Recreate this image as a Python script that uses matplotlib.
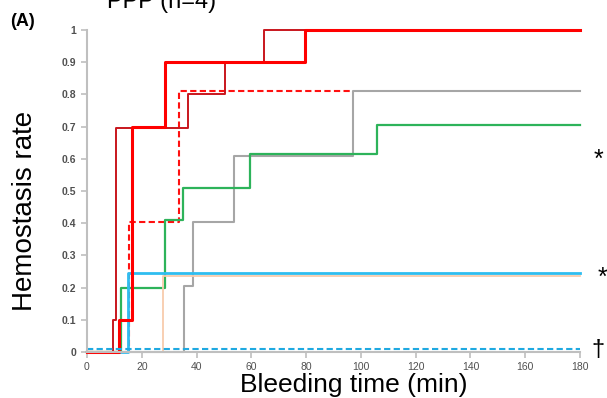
import matplotlib
matplotlib.use("Agg")
import matplotlib.pyplot as plt

plt.rcParams['font.family'] = ['Liberation Sans', 'DejaVu Sans']

# step curves: time (min) where the rate changes, and the rate from then on
t_darkred = [0, 9.6, 10.6, 37.0, 50.4, 64.5, 180]
r_darkred = [0, 0.10, 0.695, 0.80, 0.90, 1.0, 1.0]

t_red = [0, 11.8, 16.3, 28.5, 79.6, 180]
r_red = [0, 0.10, 0.70, 0.90, 1.0, 1.0]

t_red_dash = [0, 15.4, 33.6, 97.0]
r_red_dash = [0, 0.405, 0.81, 0.81]

t_gray = [0, 35.5, 38.8, 53.7, 97.0, 180]
r_gray = [0, 0.205, 0.405, 0.61, 0.81, 0.81]

t_green = [0, 12.4, 28.3, 35.2, 59.5, 106.0, 180]
r_green = [0, 0.20, 0.41, 0.51, 0.615, 0.705, 0.705]

t_peach = [0, 27.9, 180]
r_peach = [0, 0.235, 0.235]

t_blue = [0, 14.8, 180]
r_blue = [0, 0.245, 0.245]

t_blue_dash = [0, 180]
r_blue_dash = [0.01, 0.01]

x_ticks = [0, 20, 40, 60, 80, 100, 120, 140, 160, 180]
y_ticks = [0, 0.1, 0.2, 0.3, 0.4, 0.5, 0.6, 0.7, 0.8, 0.9, 1]
y_ticklabels = ['0', '0.1', '0.2', '0.3', '0.4', '0.5', '0.6', '0.7', '0.8', '0.9', '1']

fig = plt.figure(figsize=(6.07, 3.98), dpi=100)
ax = fig.add_axes([87 / 607, 1 - 352 / 398, 493 / 607, 322 / 398])

ax.step(t_red_dash, r_red_dash, where='post', color='#FF1010', lw=1.5,
        linestyle=(0, (3, 1.6)), clip_on=False)
ax.step(t_gray, r_gray, where='post', color='#A6A6A6', lw=1.5, clip_on=False)
ax.step(t_green, r_green, where='post', color='#2DB35A', lw=1.6, clip_on=False)
ax.step(t_peach, r_peach, where='post', color='#F8CBAD', lw=1.3, clip_on=False)
ax.step(t_blue, r_blue, where='post', color='#2EBDF0', lw=2.0, clip_on=False)
ax.step(t_darkred, r_darkred, where='post', color='#C8161D', lw=1.4, clip_on=False)
ax.step(t_red, r_red, where='post', color='#FF0000', lw=2.2, clip_on=False)
ax.step(t_blue_dash, r_blue_dash, where='post', color='#1FA9E1', lw=1.5,
        linestyle=(0, (3, 1.6)), clip_on=False)

ax.set_xlim(0, 180)
ax.set_ylim(0, 1)
ax.set_xticks(x_ticks)
ax.set_yticks(y_ticks)
ax.set_yticklabels(y_ticklabels, fontweight='bold')
ax.tick_params(axis='both', colors='#BFBFBF', length=4, width=1.2, labelsize=7.5,
               labelcolor='#505050')

for side in ['top', 'right']:
    ax.spines[side].set_visible(False)
for side in ['left', 'bottom']:
    ax.spines[side].set_color('#BFBFBF')
    ax.spines[side].set_linewidth(1.5)

ax.set_xlabel('Bleeding time (min)', fontsize=19)
ax.xaxis.set_label_coords((354 - 87) / 493, (352 - 373) / 322)
ax.set_ylabel('Hemostasis rate', fontsize=20)
ax.yaxis.set_label_coords((38 - 87) / 493, (352 - 211) / 322)

fig.text(162 / 607, 1 - 8 / 398, 'PPP (n=4)', fontsize=17, ha='center', va='baseline')
fig.text(10 / 607, 1 - 21 / 398, '(A)', fontsize=13, fontweight='bold', ha='left', va='center')

fig.text(598 / 607, 1 - 160 / 398, '*', fontsize=18, ha='center', va='center')
fig.text(602 / 607, 1 - 278 / 398, '*', fontsize=18, ha='center', va='center')
fig.text(598 / 607, 1 - 350 / 398, '\u2020', fontsize=17, ha='center', va='center')

fig.savefig('out.png', dpi=100)
